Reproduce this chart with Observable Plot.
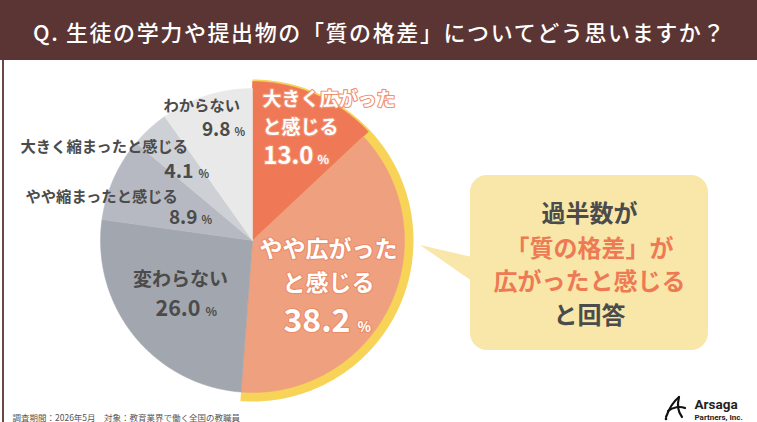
<!DOCTYPE html>
<html><head><meta charset="utf-8">
<script src="https://cdn.jsdelivr.net/npm/d3@7"></script>
<script src="https://cdn.jsdelivr.net/npm/@observablehq/plot@0.6"></script>
<style>
html,body{margin:0;padding:0;background:#fff;}
#wrap{position:relative;width:757px;height:422px;overflow:hidden;font-family:"Noto Sans CJK JP","Noto Sans",sans-serif;}
#title{position:absolute;left:0;top:0;width:757px;height:60px;background:#5b3533;color:#fff;font-size:22px;font-weight:500;letter-spacing:1.6px;line-height:62px;padding-left:33px;box-sizing:border-box;white-space:nowrap;}
#border{position:absolute;left:2px;top:60px;width:2px;height:362px;background:#6b4643;}
#deco{position:absolute;left:0;top:0;}
#chart{position:absolute;left:0;top:0;}
</style></head>
<body><div id="wrap">
<svg id="deco" width="757" height="422">
  <path d="M420,245 L472,257 L472,281 Z" fill="#f8e7a9"/>
  <rect x="470" y="175" width="238" height="175" rx="17" fill="#f8e7a9"/>
  <g fill="none" stroke="#111" stroke-width="2.2" stroke-linecap="round">
    <path d="M666,417 C669,409 674,401 679,397"/>
    <path d="M679,397 C677,405 678,412 682,417"/>
    <path d="M668,411 C673,407 680,406 685,408"/>
  </g>
  <circle cx="666" cy="419" r="1.3" fill="#111"/>
</svg>
<div id="title">Q. 生徒の学力や提出物の「質の格差」についてどう思いますか？</div>
<div id="border"></div>
<div id="chart"></div>
</div>
<script>
// ---- data ----
const categories = ["大きく広がったと感じる","やや広がったと感じる","変わらない","やや縮まったと感じる","大きく縮まったと感じる","わからない"];
const values = [13.0, 38.2, 26.0, 8.9, 4.1, 9.8];
const calloutLines = ["過半数が","「質の格差」が","広がったと感じる","と回答"];
const footnote = "調査期間：2026年5月　対象：教育業界で働く全国の教職員";
const logoName = "Arsaga";
const logoSub = "Partners, Inc.";

// ---- styles / layout ----
const colors = ["#ef7957","#eea07f","#a2a6ae","#b6b9c1","#cdd0d5","#e9e9e9"];
const radii = [159,152,152,152,152,152];
const ringColor = "#f7d458";
const ringRadius = 161;
const ringSlices = 2; // first two slices highlighted
const cx = 252, cy = 240;
const dark = "#4b4b4b", orange = "#ee7a55";
const layout = [
  {brk:7, x:262, anchor:"start", nameY:[105,133], nameFs:19, numX:313, numY:163, numFs:24, pctFs:12, gap:4, fill:"#fff", stroke:"#f0906f"},
  {brk:6, x:328, anchor:"middle", nameY:[256,290], nameFs:23, numX:350, numY:331, numFs:32, pctFs:14, gap:7, fill:"#fff", stroke:"#ea8c69"},
  {brk:0, x:180, anchor:"middle", nameY:[285], nameFs:19, numX:200, numY:315, numFs:21.5, pctFs:12, gap:5, fill:dark},
  {brk:0, x:25, anchor:"start", nameY:[201], nameFs:15.3, numX:197, numY:223, numFs:19, pctFs:11, gap:4, fill:dark},
  {brk:0, x:20, anchor:"start", nameY:[151], nameFs:15.3, numX:193, numY:177, numFs:19.5, pctFs:11, gap:5, fill:dark},
  {brk:0, x:163, anchor:"start", nameY:[110], nameFs:15.3, numX:230, numY:135, numFs:19, pctFs:11, gap:4, fill:dark}
];
const calloutStyle = {x:589, baselines:[221,256,289,323], fs:24, fills:[dark, orange, orange, dark]};

// ---- geometry from data ----
const arcs = d3.pie().sort(null).value(d => d)(values);
function wedge(a0, a1, r) {
  const n = Math.max(2, Math.ceil((a1 - a0) / (Math.PI / 360)));
  const pts = [{x: cx, y: cy}];
  for (let i = 0; i <= n; i++) {
    const a = a0 + (a1 - a0) * i / n;
    pts.push({x: cx + r * Math.sin(a), y: cy - r * Math.cos(a)});
  }
  pts.push({x: cx, y: cy});
  return pts;
}

const marks = [];
marks.push(Plot.line(wedge(0, arcs[ringSlices - 1].endAngle, ringRadius), {x: "x", y: "y", fill: ringColor, stroke: "none"}));
arcs.forEach((a, i) => {
  marks.push(Plot.line(wedge(a.startAngle, a.endAngle, radii[i]), {x: "x", y: "y", fill: colors[i], stroke: colors[i], strokeWidth: 0.5}));
});

const texts = [];
layout.forEach((L, i) => {
  const name = categories[i];
  const lines = L.brk ? [name.slice(0, L.brk), name.slice(L.brk)] : [name];
  lines.forEach((t, j) => texts.push({t, x: L.x, y: L.nameY[j] - 0.32 * L.nameFs, fs: L.nameFs, anchor: L.anchor, fill: L.fill, stroke: L.stroke}));
  texts.push({t: values[i].toFixed(1), x: L.numX, y: L.numY - 0.32 * L.numFs, fs: L.numFs, anchor: "end", fill: L.fill, stroke: L.stroke});
  texts.push({t: "%", x: L.numX + L.gap, y: L.numY - 0.32 * L.pctFs, fs: L.pctFs, anchor: "start", fill: L.fill, stroke: L.stroke});
});
calloutLines.forEach((t, j) => texts.push({t, x: calloutStyle.x, y: calloutStyle.baselines[j] - 0.32 * calloutStyle.fs, fs: calloutStyle.fs, anchor: "middle", fill: calloutStyle.fills[j]}));

texts.forEach(d => {
  const opts = {x: "x", y: "y", text: "t", fontSize: d.fs, textAnchor: d.anchor, fill: d.fill, fontWeight: "bold"};
  if (d.stroke) { opts.stroke = d.stroke; opts.strokeWidth = 2.2; opts.paintOrder = "stroke"; }
  marks.push(Plot.text([d], opts));
});
marks.push(Plot.text([{t: footnote, x: 12, y: 420 - 0.32 * 8.5}], {x: "x", y: "y", text: "t", fontSize: 8.5, textAnchor: "start", fill: "#555"}));
marks.push(Plot.text([{t: logoName, x: 694, y: 408 - 0.32 * 13.5}], {x: "x", y: "y", text: "t", fontSize: 13.5, textAnchor: "start", fill: "#222", fontWeight: "bold", fontFamily: "Roboto, sans-serif"}));
marks.push(Plot.text([{t: logoSub, x: 694, y: 419.5 - 0.32 * 8}], {x: "x", y: "y", text: "t", fontSize: 8, textAnchor: "start", fill: "#222", fontWeight: "bold", fontFamily: "Roboto, sans-serif"}));

const chart = Plot.plot({
  width: 757, height: 422, margin: 0,
  x: {domain: [0, 757], range: [0, 757], axis: null},
  y: {domain: [0, 422], range: [0, 422], axis: null},
  style: {background: "transparent", fontFamily: "'Noto Sans CJK JP', 'Noto Sans', sans-serif", overflow: "visible"},
  marks
});
document.getElementById("chart").appendChild(chart);
</script>
</body></html>
